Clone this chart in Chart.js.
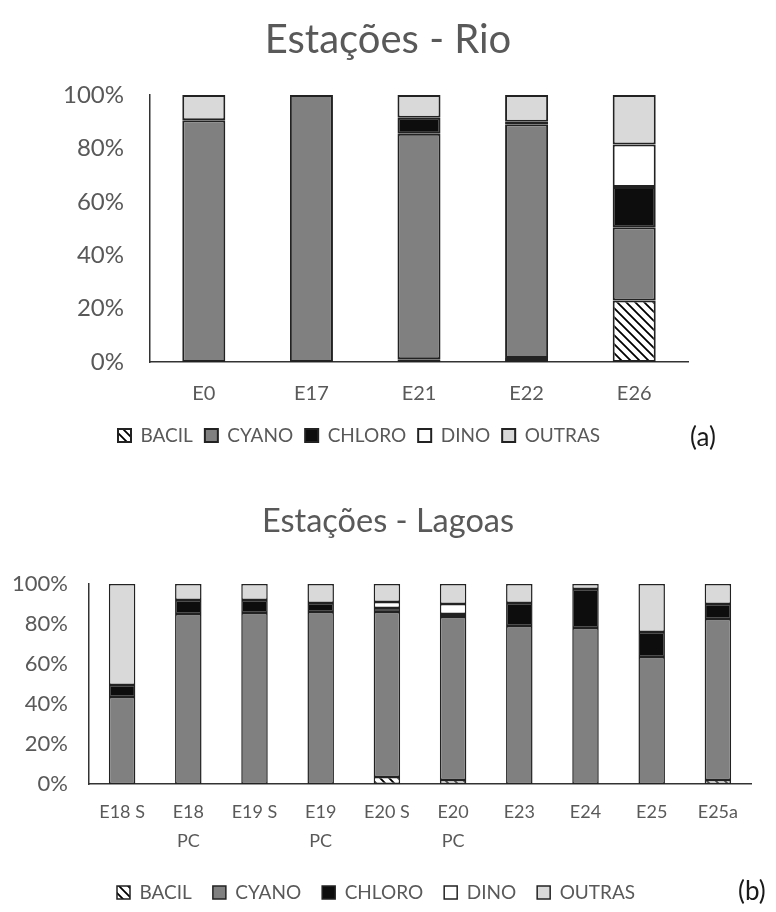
<!DOCTYPE html>
<html>
<head>
<meta charset="utf-8">
<script src="https://cdn.jsdelivr.net/npm/chart.js@4.4.1/dist/chart.umd.min.js"></script>
<style>
  body { margin: 0; background: #fff; }
  #wrap { position: relative; width: 776px; height: 912px; overflow: hidden; }
  .box { position: absolute; left: 0; width: 776px; }
  .tag { position: absolute; font-family: Lato, sans-serif; font-size: 26px; color: #1a1a1a; line-height: 32px; }
</style>
</head>
<body>
<div id="wrap">
  <div class="box" style="top:0;height:470px"><canvas id="rio"></canvas></div>
  <div class="box" style="top:470px;height:442px"><canvas id="lagoas"></canvas></div>
  <span class="tag" style="left:690px;top:420px">(a)</span>
  <span class="tag" style="left:738px;top:874px">(b)</span>
</div>
<script>
// --- Data ---
const seriesNames = ['BACIL', 'CYANO', 'CHLORO', 'DINO', 'OUTRAS'];

const rioStations = ['E0', 'E17', 'E21', 'E22', 'E26'];
const rioBacil  = [0, 0, 1, 1.5, 23];
const rioCyano  = [90.5, 100, 84.5, 87.5, 27.5];
const rioChloro = [0, 0, 6, 1, 15];
const rioDino   = [0, 0, 0, 0, 16];
const rioOutras = [9.5, 0, 8.5, 10, 18.5];

const lagoasStations = ['E18 S', ['E18', 'PC'], 'E19 S', ['E19', 'PC'], 'E20 S', ['E20', 'PC'], 'E23', 'E24', 'E25', 'E25a'];
const lagoasBacil  = [0, 0, 0, 0, 3.5, 2, 0, 0, 0, 2];
const lagoasCyano  = [43.5, 85, 85.5, 86, 82.5, 81.5, 79, 78, 63.5, 80.5];
const lagoasChloro = [6, 7, 6.5, 4.5, 2, 1.5, 11.5, 19.5, 12.5, 7.5];
const lagoasDino   = [0, 0, 0, 0, 3, 5, 0, 0, 0, 0];
const lagoasOutras = [50.5, 8, 8, 9.5, 9, 10, 9.5, 2.5, 24, 10];

const yTickStep = 20;
const yMax = 100;

// --- Styles ---
const TEXT = '#595959';
const EDGE = '#222222';
Chart.defaults.font.family = 'Lato, "Open Sans", sans-serif';
Chart.defaults.color = TEXT;

function hatchPattern() {
    const s = 9;
    const c = document.createElement('canvas');
    c.width = s; c.height = s;
    const g = c.getContext('2d');
    g.fillStyle = '#fff';
    g.fillRect(0, 0, s, s);
    g.strokeStyle = '#000';
    g.lineWidth = 1.8;
    g.beginPath();
    g.moveTo(-1, -1); g.lineTo(s + 1, s + 1);
    g.moveTo(-s / 2 - 1, s / 2 - 1); g.lineTo(s / 2 + 1, s * 1.5 + 1);
    g.moveTo(s / 2 - 1, -s / 2 - 1); g.lineTo(s * 1.5 + 1, s / 2 + 1);
    g.stroke();
    return g.createPattern(c, 'repeat');
}

const fills = [hatchPattern(), '#808080', '#0d0d0d', '#ffffff', '#d9d9d9'];

// moves the legend so its first item starts where the reference has it
const legendShift = {
    id: 'legendShift',
    afterLayout(chart, args, opts) {
        const pad = chart.options.plugins.legend.labels.padding;
        chart.legend.left = opts.start - pad;
    }
};

function buildDatasets(values, edgeWidth) {
    return values.map((data, i) => ({
        label: seriesNames[i],
        data: data,
        backgroundColor: fills[i],
        borderColor: EDGE,
        borderWidth: edgeWidth,
        borderSkipped: false,
        barPercentage: 0.4,
        categoryPercentage: 1
    }));
}

function makeChart(id, o) {
    return new Chart(document.getElementById(id), {
        type: 'bar',
        data: { labels: o.labels, datasets: buildDatasets(o.values, o.edge) },
        plugins: [legendShift],
        options: {
            responsive: true,
            maintainAspectRatio: false,
            animation: false,
            layout: { padding: { left: 0, right: 0, top: 0, bottom: o.padBottom } },
            plugins: {
                tooltip: { enabled: false },
                title: {
                    display: true,
                    text: o.title,
                    color: TEXT,
                    font: { size: o.titleSize, weight: 'normal' },
                    padding: { top: o.titleTop, bottom: o.titleBottom }
                },
                legend: {
                    position: 'bottom',
                    align: 'start',
                    labels: {
                        boxWidth: 13,
                        boxHeight: 13,
                        padding: o.legendPad,
                        color: TEXT,
                        font: { size: o.legendSize }
                    }
                },
                legendShift: { start: o.legendStart }
            },
            scales: {
                x: {
                    stacked: true,
                    grid: { display: false, drawTicks: false },
                    border: { display: true, color: '#333', width: 1.5 },
                    ticks: { color: TEXT, font: { size: o.xSize, lineHeight: 1.6 }, padding: o.xPad, maxRotation: 0, autoSkip: false },
                    afterFit: s => { s.height = o.xHeight; }
                },
                y: {
                    stacked: true,
                    min: 0,
                    max: yMax,
                    grid: { display: false, drawTicks: false },
                    border: { display: true, color: '#333', width: 1.5 },
                    ticks: { stepSize: yTickStep, color: TEXT, font: { size: o.ySize }, padding: o.yPad, callback: v => v + '%' },
                    afterFit: s => { s.width = o.left; }
                },
                yr: {
                    position: 'right',
                    grid: { display: false, drawTicks: false },
                    border: { display: false },
                    ticks: { display: false },
                    afterFit: s => { s.width = o.right; }
                }
            }
        }
    });
}

// --- Charts ---
makeChart('rio', {
    labels: rioStations,
    values: [rioBacil, rioCyano, rioChloro, rioDino, rioOutras],
    title: 'Estações - Rio',
    titleSize: 40, titleTop: 16, titleBottom: 31,
    left: 150, right: 88, edge: 2,
    ySize: 24, yPad: 26,
    xSize: 20, xPad: 16, xHeight: 52,
    legendSize: 19, legendPad: 12, legendStart: 118,
    padBottom: 15
});

makeChart('lagoas', {
    labels: lagoasStations,
    values: [lagoasBacil, lagoasCyano, lagoasChloro, lagoasDino, lagoasOutras],
    title: 'Estações - Lagoas',
    titleSize: 32.5, titleTop: 32, titleBottom: 43,
    left: 89, right: 25, edge: 1.5,
    ySize: 22, yPad: 21,
    xSize: 18, xPad: 14, xHeight: 78,
    legendSize: 19, legendPad: 21, legendStart: 117,
    padBottom: 0
});
</script>
</body>
</html>
